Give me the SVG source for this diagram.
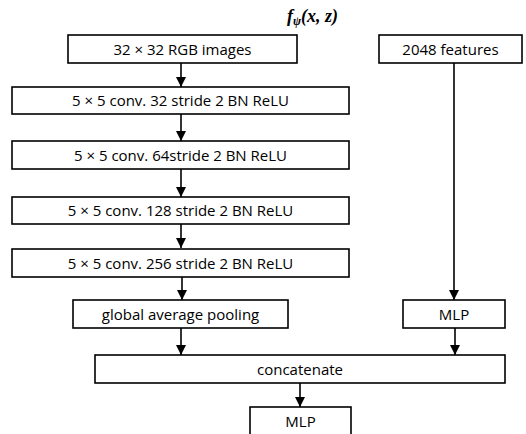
<svg xmlns="http://www.w3.org/2000/svg" width="526" height="434" viewBox="0 0 526 434">
<style>
.box{fill:#fff;stroke:#000;stroke-width:1.6}
.t{font-family:"Open Sans","Liberation Sans",sans-serif;font-size:15px;text-anchor:middle;fill:#000}
.c{stroke:#000;stroke-width:1.6;fill:none}
.m{font-family:"Liberation Serif","DejaVu Serif",serif;font-weight:bold;font-style:italic;fill:#000}
</style>
<defs>
<marker id="ah" viewBox="0 0 10 10" refX="10" refY="5" markerWidth="10" markerHeight="10" markerUnits="userSpaceOnUse" orient="auto">
<path d="M0,0 L10,5 L0,10 z" fill="#000"/>
</marker>
</defs>
<g id="title"><text x="287" y="22" class="m" font-size="18">f<tspan font-size="12" dy="3">ψ</tspan><tspan dy="-3">(x, z)</tspan></text></g>
<g id="connectors">
<line class="c" x1="181" y1="63" x2="181" y2="87" marker-end="url(#ah)"/>
<line class="c" x1="181" y1="114" x2="181" y2="141" marker-end="url(#ah)"/>
<line class="c" x1="181" y1="169" x2="181" y2="197" marker-end="url(#ah)"/>
<line class="c" x1="181" y1="224" x2="181" y2="248" marker-end="url(#ah)"/>
<line class="c" x1="182" y1="277" x2="182" y2="300" marker-end="url(#ah)"/>
<line class="c" x1="454" y1="63" x2="454" y2="300" marker-end="url(#ah)"/>
<line class="c" x1="181" y1="328" x2="181" y2="355" marker-end="url(#ah)"/>
<line class="c" x1="455" y1="328" x2="455" y2="355" marker-end="url(#ah)"/>
<line class="c" x1="300" y1="383" x2="300" y2="407" marker-end="url(#ah)"/>
</g>
<g id="n1"><rect class="box" x="68" y="35" width="229" height="28"/><text class="t" x="182.5" y="54.5">32 × 32 RGB images</text></g>
<g id="n2"><rect class="box" x="379" y="35" width="143" height="28"/><text class="t" x="450.5" y="54.5">2048 features</text></g>
<g id="n3"><rect class="box" x="12" y="87" width="337" height="27"/><text class="t" x="180.5" y="106">5 × 5 conv. 32 stride 2 BN ReLU</text></g>
<g id="n4"><rect class="box" x="12" y="141" width="337" height="28"/><text class="t" x="180.5" y="160.5">5 × 5 conv. 64stride 2 BN ReLU</text></g>
<g id="n5"><rect class="box" x="12" y="197" width="337" height="27"/><text class="t" x="180.5" y="216">5 × 5 conv. 128 stride 2 BN ReLU</text></g>
<g id="n6"><rect class="box" x="12" y="249" width="337" height="28"/><text class="t" x="180.5" y="268.5">5 × 5 conv. 256 stride 2 BN ReLU</text></g>
<g id="n7"><rect class="box" x="73" y="300" width="215" height="28"/><text class="t" x="180.5" y="319.5">global average pooling</text></g>
<g id="n8"><rect class="box" x="403" y="300" width="102" height="28"/><text class="t" x="454" y="319.5">MLP</text></g>
<g id="n9"><rect class="box" x="95" y="355" width="410" height="28"/><text class="t" x="300" y="374.5">concatenate</text></g>
<g id="n10"><rect class="box" x="250" y="407" width="101" height="28"/><text class="t" x="300.5" y="426.5">MLP</text></g>
</svg>
